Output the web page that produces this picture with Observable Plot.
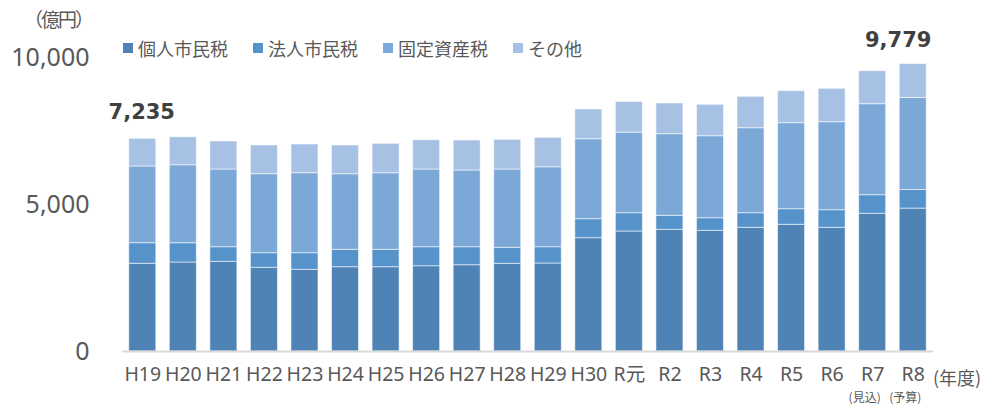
<!DOCTYPE html>
<html>
<head>
<meta charset="utf-8">
<script src="https://cdn.jsdelivr.net/npm/d3@7"></script>
<script src="https://cdn.jsdelivr.net/npm/@observablehq/plot@0.6"></script>
<style>
  html, body { margin: 0; padding: 0; background: #fff; }
  #wrap { position: relative; width: 992px; height: 408px; font-family: "Noto Sans", "Noto Sans CJK JP", sans-serif; }
  .unit { position: absolute; left: 24px; top: 5px; font-size: 19px; line-height: 28px; color: #595959; font-family: "Noto Sans CJK JP", sans-serif; letter-spacing: -2px; }
  .nendo { position: absolute; left: 933px; top: 364px; font-size: 18px; color: #595959; font-family: "Noto Sans CJK JP", sans-serif; }
  .legend { position: absolute; left: 123px; top: 35px; display: flex; align-items: center; font-size: 18px; color: #595959; font-family: "Noto Sans CJK JP", sans-serif; }
  .legend .item { display: flex; align-items: center; margin-right: 25px; }
  .legend .sw { width: 10px; height: 10px; margin-right: 5px; }
</style>
</head>
<body>
<div id="wrap"></div>
<script>
const years = ["H19","H20","H21","H22","H23","H24","H25","H26","H27","H28","H29","H30","R元","R2","R3","R4","R5","R6","R7","R8"];
const seriesNames = ["個人市民税","法人市民税","固定資産税","その他"];
const kojin  = [2984,3027,3051,2847,2779,2867,2867,2901,2935,2983,2993,3854,4082,4139,4105,4207,4310,4207,4684,4861];
const houjin = [700,656,497,497,565,592,592,646,612,544,554,646,622,476,429,497,531,599,633,633];
const kotei  = [2609,2653,2643,2687,2721,2571,2605,2643,2609,2663,2721,2721,2741,2776,2789,2891,2925,2993,3095,3129];
const sonota = [942,952,952,976,976,976,1000,997,1020,1010,1000,1010,1044,1044,1068,1068,1088,1136,1122,1156];
const colors = ["#4F82B5","#5593CA","#7CA8D8","#A6C1E4"];
const yTicks = [0, 5000, 10000];
const highlightYears = ["H19","R8"];
const notes = [{year:"R7", label:"(見込)"}, {year:"R8", label:"(予算)"}];

const seriesValues = [kojin, houjin, kotei, sonota];
const data = [];
years.forEach((y, i) => {
  seriesNames.forEach((s, j) => data.push({year: y, series: s, value: seriesValues[j][i]}));
});
const totals = years.map((y, i) => ({year: y, total: kojin[i] + houjin[i] + kotei[i] + sonota[i]}));
const hlFirst = totals.filter(d => d.year === highlightYears[0]);
const hlLast = totals.filter(d => d.year === highlightYears[1]);

const chart = Plot.plot({
  width: 992,
  height: 408,
  marginTop: 57,
  marginBottom: 57,
  marginLeft: 122,
  marginRight: 59,
  style: {fontFamily: "'Noto Sans', 'Noto Sans CJK JP', sans-serif", color: "#595959", background: "transparent"},
  x: {domain: years, paddingInner: 0.334, paddingOuter: 0.167, round: false, label: null},
  y: {domain: [0, 10000], label: null},
  color: {domain: seriesNames, range: colors},
  marks: [
    Plot.barY(data, Plot.stackY({
      x: "year", y: "value", fill: "series", z: "series", order: seriesNames,
      stroke: "#ffffff", strokeOpacity: 0.55, strokeWidth: 1
    })),
    Plot.ruleY([0], {stroke: "#d9d9d9", strokeWidth: 2}),
    Plot.axisY({ticks: yTicks, tickSize: 0, tickPadding: 33, tickFormat: d3.format(","), fontSize: 25, fill: "#595959", label: null}),
    Plot.axisX({tickSize: 0, tickPadding: 16, fontSize: 19.5, fill: "#595959", label: null}),
    Plot.text(hlFirst, {x: "year", y: "total", text: d => d3.format(",")(d.total), dy: -27, dx: -1, fontSize: 21, fontWeight: "bold", fill: "#404040", fontFamily: "DejaVu Sans"}),
    Plot.text(hlLast, {x: "year", y: "total", text: d => d3.format(",")(d.total), dy: -24, dx: -15, fontSize: 21, fontWeight: "bold", fill: "#404040", fontFamily: "DejaVu Sans"}),
    Plot.text(notes, {x: "year", text: "label", frameAnchor: "bottom", dy: 50, dx: -8, fontSize: 12, fill: "#595959", fontFamily: "Noto Sans CJK JP"})
  ]
});

const wrap = document.getElementById("wrap");
wrap.appendChild(chart);

const unit = document.createElement("div");
unit.className = "unit";
unit.textContent = "（億円）";
wrap.appendChild(unit);

const nendo = document.createElement("div");
nendo.className = "nendo";
nendo.textContent = "(年度)";
wrap.appendChild(nendo);

const legend = document.createElement("div");
legend.className = "legend";
seriesNames.forEach((s, i) => {
  const it = document.createElement("div");
  it.className = "item";
  const sw = document.createElement("span");
  sw.className = "sw";
  sw.style.background = colors[i];
  const tx = document.createElement("span");
  tx.textContent = s;
  it.appendChild(sw);
  it.appendChild(tx);
  legend.appendChild(it);
});
wrap.appendChild(legend);
</script>
</body>
</html>
